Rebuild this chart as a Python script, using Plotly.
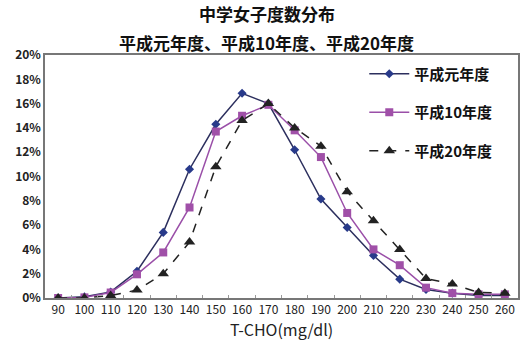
import plotly.graph_objects as go

categories = ['90', '100', '110', '120', '130', '140', '150', '160', '170',
              '180', '190', '200', '210', '220', '230', '240', '250', '260']

h1 = [0.0, 0.1, 0.5, 2.2, 5.4, 10.6, 14.3, 16.85, 16.0,
      12.2, 8.15, 5.8, 3.5, 1.55, 0.7, 0.4, 0.2, 0.2]
h10 = [0.0, 0.05, 0.45, 1.95, 3.75, 7.45, 13.7, 15.0, 15.9,
       13.8, 11.6, 7.0, 4.0, 2.7, 0.85, 0.4, 0.3, 0.3]
h20 = [0.0, 0.0, 0.2, 0.65, 2.0, 4.6, 10.8, 14.6, 16.0,
       14.0, 12.5, 8.75, 6.35, 4.0, 1.6, 1.15, 0.45, 0.4]

names = ['平成元年度', '平成10年度', '平成20年度']
title_lines = ['中学女子度数分布', '平成元年度、平成10年度、平成20年度']

font_jp = 'Noto Sans CJK JP'

fig = go.Figure()
fig.add_trace(go.Scatter(
    x=categories, y=h1, name=names[0], mode='lines+markers', legendgroup='a',
    line=dict(color='#2c2f5e', width=1.5),
    marker=dict(symbol='diamond', size=7, color='#283a8a')
))
fig.add_trace(go.Scatter(
    x=categories, y=h10, name=names[1], mode='lines+markers', legendgroup='b',
    line=dict(color='#9a4fa8', width=1.5),
    marker=dict(symbol='square', size=8, color='#a050a8')
))
fig.add_trace(go.Scatter(
    x=categories, y=h20, name=names[2], mode='lines+markers', legendgroup='c',
    line=dict(color='#222222', width=1.5, dash='dash'),
    marker=dict(symbol='triangle-up', size=10, color='#222222')
))

# two-line title as annotations above the plot area
fig.add_annotation(text='<b>' + title_lines[0] + '</b>', xref='paper', yref='paper',
                   x=0.469, y=1.17, xanchor='center', yanchor='middle', showarrow=False,
                   font=dict(family=font_jp, size=17, color='#111111'))
fig.add_annotation(text='<b>' + title_lines[1] + '</b>', xref='paper', yref='paper',
                   x=0.469, y=1.05, xanchor='center', yanchor='middle', showarrow=False,
                   font=dict(family=font_jp, size=17, color='#111111'))

fig.update_layout(
    width=521, height=345,
    margin=dict(l=45, r=3, t=55, b=47),
    paper_bgcolor='white', plot_bgcolor='white',
    font=dict(family=font_jp, size=11, color='#222222'),
    showlegend=True,
    legend=dict(
        x=0.675, y=0.99, xanchor='left', yanchor='top',
        bgcolor='rgba(0,0,0,0)', tracegroupgap=16,
        font=dict(family=font_jp, size=15, color='#111111', weight='bold'),
        itemwidth=40
    ),
    xaxis=dict(
        type='category', automargin=False, tickangle=0, range=[-0.5, 17.5],
        title=dict(text='T-CHO(mg/dl)', standoff=6, font=dict(family=font_jp, size=16)),
        showline=True, linecolor='#777777', linewidth=1.5, mirror=True,
        ticks='inside', ticklen=3, tickcolor='#999999', tickson='boundaries',
        showgrid=False, tickfont=dict(size=12, color='#222222')
    ),
    yaxis=dict(
        automargin=False, range=[0, 20], tickvals=list(range(0, 21, 2)),
        ticktext=[f'{v}%' for v in range(0, 21, 2)],
        showline=True, linecolor='#777777', linewidth=1.5, mirror=True,
        showgrid=False, zeroline=False, ticks='',
        tickfont=dict(size=12, color='#222222', weight='bold')
    )
)

fig.write_html('out.html', config={'displayModeBar': False},
               post_script="document.body.style.margin='0';")
